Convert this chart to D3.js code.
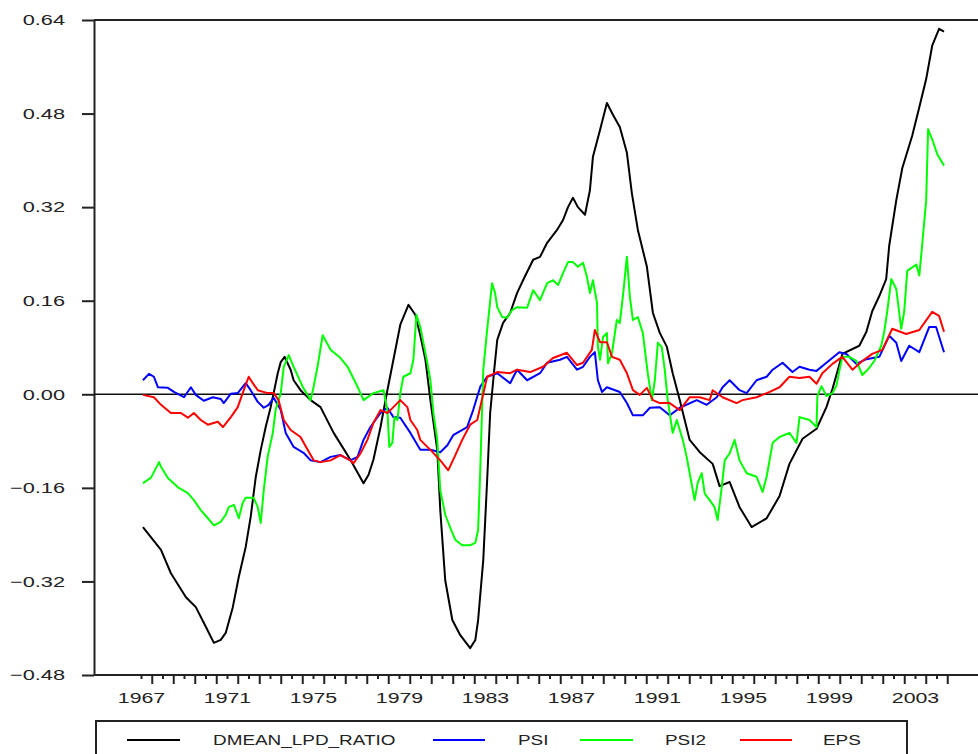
<!DOCTYPE html>
<html>
<head>
<meta charset="utf-8">
<script src="https://cdn.jsdelivr.net/npm/d3@7"></script>
<style>
  body { margin: 0; background: #fff; }
  svg { display: block; }
  text { font-family: "Liberation Sans", Arial, sans-serif; fill: #222; }
</style>
</head>
<body>
<div id="chart"></div>
<script>
    // [year, value]
    var dmeanLpdRatio = [
      [1967.09,-0.227],[1967.93,-0.266],[1968.39,-0.306],[1969.09,-0.347],[1969.55,-0.364],
      [1970.02,-0.398],[1970.39,-0.425],[1970.71,-0.420],[1970.94,-0.408],[1971.27,-0.364],
      [1971.55,-0.312],[1971.87,-0.261],[1972.10,-0.210],[1972.34,-0.141],[1972.57,-0.095],
      [1972.80,-0.056],[1973.03,-0.022],[1973.17,0.002],[1973.36,0.036],[1973.50,0.055],
      [1973.68,0.064],[1973.96,0.042],[1974.10,0.024],[1974.42,0.007],[1974.89,-0.010],
      [1975.35,-0.022],[1975.96,-0.066],[1976.74,-0.112],[1977.35,-0.152],[1977.58,-0.138],
      [1977.81,-0.112],[1978.14,-0.056],[1978.46,0.007],[1978.74,0.059],[1979.06,0.119],
      [1979.44,0.153],[1979.76,0.136],[1979.99,0.101],[1980.23,0.059],[1980.46,-0.010],
      [1980.78,-0.095],[1980.92,-0.198],[1981.15,-0.318],[1981.48,-0.386],[1981.85,-0.412],
      [1982.31,-0.434],[1982.55,-0.420],[1982.68,-0.386],[1982.92,-0.283],[1983.10,-0.147],
      [1983.24,-0.032],[1983.43,0.042],[1983.57,0.093],[1983.84,0.122],[1984.17,0.139],
      [1984.49,0.173],[1984.77,0.195],[1985.24,0.230],[1985.56,0.235],[1985.89,0.259],
      [1986.35,0.281],[1986.63,0.298],[1986.86,0.320],[1987.09,0.336],[1987.32,0.320],
      [1987.65,0.307],[1987.88,0.349],[1988.02,0.406],[1988.35,0.452],[1988.67,0.498],
      [1988.95,0.478],[1989.27,0.457],[1989.60,0.413],[1989.83,0.344],[1990.11,0.281],
      [1990.53,0.218],[1990.81,0.139],[1991.13,0.105],[1991.46,0.081],[1991.73,0.036],
      [1992.06,-0.010],[1992.52,-0.078],[1992.99,-0.099],[1993.59,-0.119],[1993.91,-0.157],
      [1994.38,-0.150],[1994.84,-0.193],[1995.40,-0.227],[1996.10,-0.212],[1996.70,-0.174],
      [1997.16,-0.119],[1997.77,-0.076],[1998.42,-0.059],[1998.88,-0.022],[1999.16,0.009],
      [1999.62,0.069],[2000.41,0.083],[2000.74,0.107],[2001.01,0.142],[2001.34,0.168],
      [2001.66,0.197],[2001.80,0.254],[2002.13,0.332],[2002.41,0.387],[2002.87,0.442],
      [2003.20,0.491],[2003.52,0.539],[2003.80,0.596],[2004.12,0.625],[2004.35,0.620]
    ];

    var psi = [
      [1967.09,0.024],[1967.37,0.035],[1967.60,0.030],[1967.79,0.012],[1968.25,0.011],
      [1968.53,0.004],[1969.00,-0.005],[1969.32,0.012],[1969.55,-0.001],[1969.92,-0.011],
      [1970.34,-0.005],[1970.71,-0.008],[1970.85,-0.015],[1971.18,0.001],[1971.50,0.002],
      [1971.87,0.019],[1972.10,0.007],[1972.43,-0.013],[1972.71,-0.023],[1972.94,-0.018],
      [1973.17,-0.006],[1973.50,-0.027],[1973.73,-0.066],[1974.10,-0.090],[1974.56,-0.100],
      [1974.89,-0.113],[1975.35,-0.116],[1975.82,-0.107],[1976.28,-0.104],[1976.74,-0.113],
      [1977.07,-0.107],[1977.35,-0.078],[1977.67,-0.056],[1978.14,-0.032],[1978.46,-0.023],
      [1978.74,-0.039],[1979.06,-0.040],[1979.53,-0.066],[1979.99,-0.095],[1980.46,-0.095],
      [1980.92,-0.099],[1981.25,-0.087],[1981.52,-0.070],[1982.17,-0.056],[1982.45,-0.027],
      [1982.78,0.013],[1983.10,0.030],[1983.57,0.036],[1984.17,0.019],[1984.49,0.042],
      [1984.96,0.024],[1985.56,0.036],[1985.89,0.054],[1986.49,0.059],[1986.81,0.064],
      [1987.28,0.042],[1987.56,0.047],[1987.88,0.064],[1988.11,0.072],[1988.25,0.024],
      [1988.44,0.004],[1988.67,0.012],[1989.27,0.004],[1989.60,-0.015],[1989.88,-0.036],
      [1990.34,-0.036],[1990.67,-0.023],[1991.13,-0.022],[1991.59,-0.036],[1992.06,-0.023],
      [1992.85,-0.010],[1993.31,-0.018],[1993.78,-0.005],[1994.05,0.012],[1994.38,0.024],
      [1994.84,0.007],[1995.17,0.002],[1995.63,0.024],[1996.10,0.030],[1996.38,0.042],
      [1996.84,0.054],[1997.30,0.038],[1997.63,0.047],[1998.09,0.042],[1998.42,0.040],
      [1998.88,0.054],[1999.48,0.072],[1999.81,0.069],[2000.27,0.052],[2000.74,0.060],
      [2001.34,0.064],[2001.80,0.100],[2002.13,0.088],[2002.36,0.057],[2002.73,0.083],
      [2003.20,0.072],[2003.66,0.115],[2003.98,0.115],[2004.35,0.072]
    ];

    var psi2 = [
      [1967.09,-0.152],[1967.46,-0.143],[1967.84,-0.116],[1967.93,-0.124],[1968.25,-0.143],
      [1968.72,-0.159],[1969.18,-0.169],[1969.46,-0.181],[1969.78,-0.198],[1970.11,-0.212],
      [1970.39,-0.224],[1970.71,-0.218],[1970.94,-0.206],[1971.08,-0.193],[1971.32,-0.189],
      [1971.55,-0.212],[1971.73,-0.186],[1971.87,-0.177],[1972.24,-0.177],[1972.43,-0.193],
      [1972.57,-0.220],[1972.71,-0.164],[1972.89,-0.107],[1973.13,-0.066],[1973.26,-0.027],
      [1973.50,0.002],[1973.64,0.047],[1973.87,0.067],[1974.10,0.047],[1974.52,0.013],
      [1974.89,-0.010],[1975.03,0.013],[1975.21,0.047],[1975.45,0.101],[1975.82,0.076],
      [1976.28,0.062],[1976.61,0.047],[1977.07,0.013],[1977.35,-0.010],[1977.81,0.002],
      [1978.28,0.007],[1978.46,-0.027],[1978.55,-0.090],[1978.69,-0.083],[1978.79,-0.039],
      [1978.93,-0.044],[1979.06,0.002],[1979.20,0.030],[1979.53,0.036],[1979.67,0.059],
      [1979.81,0.136],[1979.99,0.115],[1980.32,0.053],[1980.46,0.024],[1980.60,-0.032],
      [1980.78,-0.078],[1980.92,-0.164],[1981.15,-0.206],[1981.39,-0.229],[1981.62,-0.249],
      [1981.94,-0.258],[1982.31,-0.258],[1982.55,-0.254],[1982.68,-0.232],[1982.78,-0.129],
      [1982.92,0.042],[1983.10,0.110],[1983.33,0.190],[1983.47,0.173],[1983.57,0.149],
      [1983.80,0.132],[1984.03,0.131],[1984.26,0.144],[1984.49,0.149],[1984.96,0.148],
      [1985.24,0.178],[1985.56,0.161],[1985.89,0.190],[1986.17,0.195],[1986.40,0.187],
      [1986.63,0.207],[1986.86,0.226],[1987.09,0.226],[1987.32,0.218],[1987.56,0.225],
      [1987.74,0.201],[1987.88,0.173],[1988.02,0.195],[1988.21,0.156],[1988.25,0.081],
      [1988.35,0.059],[1988.49,0.098],[1988.67,0.105],[1988.72,0.053],[1988.91,0.071],
      [1989.13,0.127],[1989.27,0.122],[1989.41,0.166],[1989.60,0.235],[1989.74,0.166],
      [1989.88,0.127],[1990.11,0.132],[1990.34,0.105],[1990.57,0.036],[1990.76,-0.010],
      [1990.90,0.024],[1991.04,0.088],[1991.22,0.081],[1991.36,0.042],[1991.50,-0.010],
      [1991.73,-0.066],[1991.92,-0.044],[1992.20,-0.078],[1992.38,-0.107],[1992.52,-0.135],
      [1992.75,-0.181],[1992.89,-0.152],[1993.08,-0.135],[1993.22,-0.170],[1993.45,-0.181],
      [1993.68,-0.193],[1993.82,-0.215],[1994.01,-0.159],[1994.15,-0.113],[1994.38,-0.101],
      [1994.61,-0.078],[1994.84,-0.113],[1995.17,-0.135],[1995.63,-0.141],[1995.91,-0.167],
      [1996.10,-0.141],[1996.38,-0.083],[1996.70,-0.073],[1997.16,-0.066],[1997.49,-0.083],
      [1997.63,-0.039],[1998.09,-0.044],[1998.42,-0.056],[1998.46,-0.003],[1998.65,0.014],
      [1998.88,-0.003],[1999.16,0.002],[1999.34,0.014],[1999.48,0.040],[1999.62,0.064],
      [1999.95,0.064],[2000.27,0.057],[2000.55,0.033],[2000.87,0.045],[2001.11,0.057],
      [2001.43,0.083],[2001.57,0.107],[2001.71,0.142],[2001.90,0.197],[2002.13,0.180],
      [2002.36,0.112],[2002.50,0.142],[2002.64,0.211],[2003.06,0.222],[2003.20,0.203],
      [2003.33,0.254],[2003.52,0.332],[2003.61,0.453],[2003.80,0.436],[2004.03,0.411],
      [2004.35,0.391]
    ];

    var eps = [
      [1967.09,-0.001],[1967.60,-0.005],[1967.93,-0.018],[1968.39,-0.032],[1968.86,-0.032],
      [1969.18,-0.040],[1969.46,-0.032],[1969.78,-0.044],[1970.11,-0.052],[1970.57,-0.047],
      [1970.81,-0.056],[1971.18,-0.039],[1971.50,-0.022],[1971.78,0.007],[1972.01,0.030],
      [1972.20,0.019],[1972.43,0.007],[1972.89,0.002],[1973.17,0.002],[1973.40,-0.010],
      [1973.64,-0.044],[1973.96,-0.061],[1974.42,-0.073],[1974.75,-0.095],[1975.03,-0.113],
      [1975.35,-0.116],[1975.82,-0.113],[1976.28,-0.104],[1976.74,-0.113],[1976.88,-0.118],
      [1977.21,-0.101],[1977.53,-0.078],[1977.81,-0.049],[1978.14,-0.027],[1978.46,-0.032],
      [1978.74,-0.022],[1979.06,-0.010],[1979.39,-0.022],[1979.53,-0.044],[1979.85,-0.061],
      [1979.99,-0.078],[1980.46,-0.095],[1980.92,-0.113],[1981.29,-0.130],[1981.62,-0.104],
      [1981.94,-0.078],[1982.31,-0.052],[1982.64,-0.044],[1983.10,0.030],[1983.57,0.038],
      [1984.17,0.036],[1984.49,0.042],[1985.10,0.038],[1985.70,0.047],[1986.16,0.062],
      [1986.81,0.071],[1987.28,0.050],[1987.56,0.054],[1987.97,0.076],[1988.11,0.110],
      [1988.35,0.089],[1988.67,0.089],[1988.91,0.064],[1989.27,0.059],[1989.60,0.036],
      [1989.88,0.007],[1990.20,-0.001],[1990.53,0.011],[1990.81,-0.010],[1991.13,-0.015],
      [1991.59,-0.015],[1992.06,-0.027],[1992.52,-0.005],[1992.99,-0.005],[1993.45,-0.010],
      [1993.59,0.007],[1994.05,-0.005],[1994.70,-0.015],[1994.98,-0.010],[1995.63,-0.005],
      [1996.24,0.004],[1996.70,0.012],[1997.16,0.030],[1997.63,0.028],[1998.09,0.030],
      [1998.42,0.018],[1998.69,0.036],[1999.16,0.052],[1999.62,0.064],[2000.09,0.042],
      [2000.55,0.057],[2001.01,0.069],[2001.48,0.076],[2001.94,0.112],[2002.59,0.103],
      [2003.20,0.110],[2003.80,0.141],[2004.12,0.134],[2004.35,0.107]
    ];

    var seriesNames = ["DMEAN_LPD_RATIO", "PSI", "PSI2", "EPS"];
    var seriesColors = ["#000000", "#0000ff", "#00ff00", "#ff0000"];
    var yTickValues = [-0.48, -0.32, -0.16, 0.00, 0.16, 0.32, 0.48, 0.64];
    var xLabelYears = [1967, 1971, 1975, 1979, 1983, 1987, 1991, 1995, 1999, 2003];

    var svg = d3.select("#chart")
                .append("svg")
                .attr("width", 978)
                .attr("height", 754)
                .style("background-color", "#fff");

    var frame = { left: 94, top: 20, bottom: 675, right: 978 };

    var xScale = d3.scaleLinear()
                   .domain([1967, 2003])
                   .range([141, 915]);

    var yScale = d3.scaleLinear()
                   .domain([-0.48, 0.64])
                   .range([frame.bottom, frame.top]);

    // stretch text a bit wider, the original font is broad
    function widen(sel, k) {
      sel.each(function () {
        var w = this.getComputedTextLength();
        d3.select(this)
          .attr("textLength", w * k)
          .attr("lengthAdjust", "spacingAndGlyphs");
      });
    }

    // y axis
    var yAxis = svg.append("g")
       .attr("transform", `translate(${frame.left}, 0)`)
       .call(d3.axisLeft(yScale)
               .tickValues(yTickValues)
               .tickSize(12)
               .tickSizeOuter(0)
               .tickPadding(17)
               .tickFormat(d3.format(".2f")));
    yAxis.select(".domain").attr("stroke", "#222").attr("stroke-width", 2);
    yAxis.selectAll(".tick line").attr("stroke", "#222").attr("stroke-width", 2);
    yAxis.selectAll(".tick text")
         .style("font-size", "15px")
         .attr("fill", "#222")
         .call(widen, 1.45);

    // top and bottom frame lines, zero line
    svg.append("line")
       .attr("x1", frame.left).attr("x2", frame.right)
       .attr("y1", yScale(0.64)).attr("y2", yScale(0.64))
       .attr("stroke", "#222").attr("stroke-width", 2);
    svg.append("line")
       .attr("x1", frame.left).attr("x2", frame.right)
       .attr("y1", yScale(-0.48)).attr("y2", yScale(-0.48))
       .attr("stroke", "#222").attr("stroke-width", 2);
    svg.append("line")
       .attr("x1", frame.left).attr("x2", frame.right)
       .attr("y1", yScale(0)).attr("y2", yScale(0))
       .attr("stroke", "#111").attr("stroke-width", 1.6);

    // x ticks every half year
    var halfYears = d3.range(1967, 2004.6, 0.5);
    var xTicks = svg.append("g")
       .attr("transform", `translate(0, ${frame.bottom})`)
       .call(d3.axisBottom(xScale)
               .tickValues(halfYears)
               .tickSize(9)
               .tickSizeOuter(0)
               .tickFormat(""));
    xTicks.select(".domain").remove();
    xTicks.selectAll(".tick line")
          .attr("stroke", "#222")
          .attr("stroke-width", 2)
          .attr("y2", d => (d % 1 === 0 ? 4 : 9));

    // x labels
    var xLabels = svg.append("g")
       .attr("transform", `translate(0, ${frame.bottom})`)
       .call(d3.axisBottom(xScale)
               .tickValues(xLabelYears)
               .tickSize(0)
               .tickPadding(17)
               .tickFormat(d3.format("d")));
    xLabels.select(".domain").remove();
    xLabels.selectAll(".tick text")
           .style("font-size", "15px")
           .attr("fill", "#222")
           .call(widen, 1.42);

    // series
    var line = d3.line()
                 .x(d => xScale(d[0]))
                 .y(d => yScale(d[1]));

    var allSeries = [dmeanLpdRatio, psi, psi2, eps];
    svg.append("g")
       .selectAll("path")
       .data(allSeries)
       .enter()
       .append("path")
       .attr("fill", "none")
       .attr("stroke", (d, i) => seriesColors[i])
       .attr("stroke-width", 2)
       .attr("stroke-linejoin", "round")
       .attr("d", line);

    // legend
    var legendLayout = [
      { x1: 127, x2: 180, tx: 213 },
      { x1: 433, x2: 485, tx: 518 },
      { x1: 580, x2: 633, tx: 665 },
      { x1: 740, x2: 792, tx: 823 }
    ];
    var legend = svg.append("g");
    legend.append("rect")
          .attr("x", 96).attr("y", 721)
          .attr("width", 811).attr("height", 60)
          .attr("fill", "none")
          .attr("stroke", "#222")
          .attr("stroke-width", 2);

    var items = legend.selectAll("g.item")
          .data(seriesNames)
          .enter()
          .append("g")
          .attr("class", "item");
    items.append("line")
         .attr("x1", (d, i) => legendLayout[i].x1)
         .attr("x2", (d, i) => legendLayout[i].x2)
         .attr("y1", 740).attr("y2", 740)
         .attr("stroke", (d, i) => seriesColors[i])
         .attr("stroke-width", 2);
    items.append("text")
         .attr("x", (d, i) => legendLayout[i].tx)
         .attr("y", 745)
         .style("font-size", "14px")
         .text(d => d)
         .call(widen, 1.35);
</script>
</body>
</html>
